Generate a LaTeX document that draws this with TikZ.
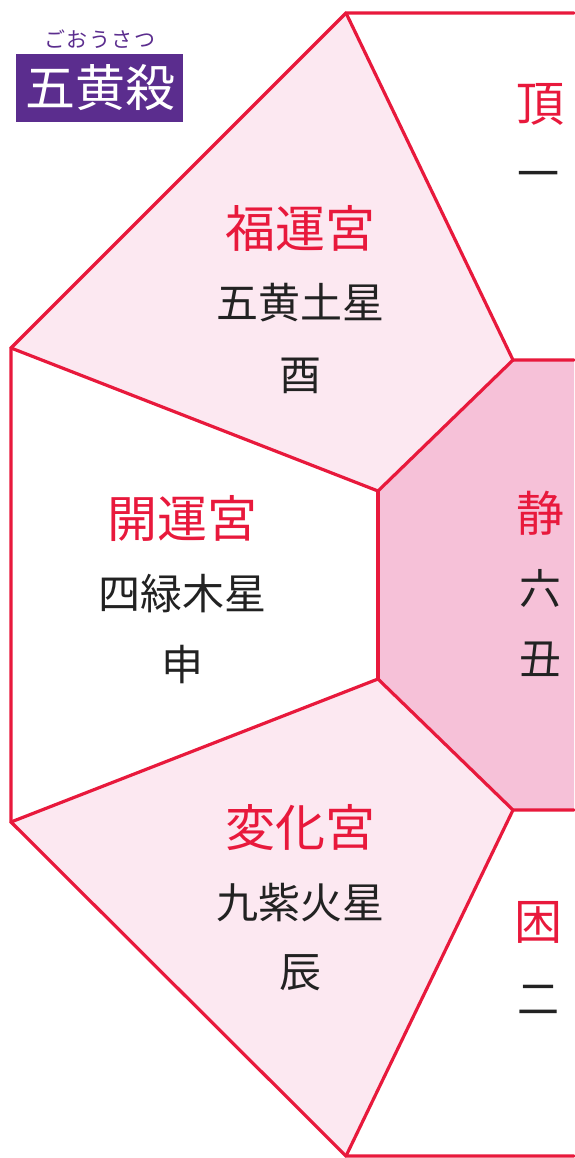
\documentclass[tikz,border=0pt]{standalone}
\usepackage{fontspec}
\setmainfont{Noto Sans CJK JP}
\definecolor{edge}{HTML}{E8193C}
\definecolor{lightpink}{HTML}{FCE8F1}
\definecolor{midpink}{HTML}{F6C1D8}
\definecolor{badge}{HTML}{5B2D8E}
\definecolor{ink}{HTML}{222222}
\begin{document}
\begin{tikzpicture}[x=1pt,y=-1pt,
  edgeline/.style={draw=edge,line width=3.2pt,line join=miter,line cap=round},
  palace/.style={text=edge,font=\fontsize{50}{50}\selectfont,inner sep=0pt},
  starname/.style={text=ink,font=\fontsize{42}{42}\selectfont,inner sep=0pt},
  sidelabel/.style={text=edge,font=\fontsize{48}{48}\selectfont,inner sep=0pt},
  sidenum/.style={text=ink,font=\fontsize{42}{42}\selectfont,inner sep=0pt}]
\useasboundingbox (0,0) rectangle (574,1158);
% vertices
\coordinate (T) at (346,13);
\coordinate (TR) at (574,13);
\coordinate (B) at (346,1156);
\coordinate (BR) at (574,1156);
\coordinate (LU) at (11,348);
\coordinate (LL) at (11,822);
\coordinate (HU) at (378,491);
\coordinate (HL) at (378,679);
\coordinate (RU) at (513,360);
\coordinate (RL) at (513,810);
\coordinate (RUe) at (574,360);
\coordinate (RLe) at (574,810);
% fills
\fill[lightpink] (T) -- (RU) -- (HU) -- (LU) -- cycle;
\fill[lightpink] (B) -- (RL) -- (HL) -- (LL) -- cycle;
\fill[midpink] (RU) -- (RUe) -- (RLe) -- (RL) -- (HL) -- (HU) -- cycle;
% edges
\draw[edgeline] (TR) -- (T) -- (LU) -- (LL) -- (B) -- (BR);
\draw[edgeline] (T) -- (RU) -- (RUe);
\draw[edgeline] (LU) -- (HU) -- (RU);
\draw[edgeline] (HU) -- (HL);
\draw[edgeline] (LL) -- (HL) -- (RL) -- (RLe);
\draw[edgeline] (B) -- (RL);
% badge
\node[fill=badge,minimum width=167pt,minimum height=68pt,inner sep=0pt,anchor=north west] (badgebox) at (16,54) {};
\node[text=white,font=\fontsize{50}{50}\selectfont,inner sep=0pt] (badgetext) at (100,88) {五黄殺};
\node[text=badge,font=\fontsize{21}{21}\selectfont,inner sep=0pt] (ruby) at (100,39) {ご\hspace{1.5pt}お\hspace{1.5pt}う\hspace{1.5pt}さ\hspace{1.5pt}つ};
% upper palace
\node[palace] (p1) at (300,228) {福運宮};
\node[starname] (s1) at (300,303) {五黄土星};
\node[starname] (z1) at (300,376) {酉};
% middle palace
\node[palace] (p2) at (182,518) {開運宮};
\node[starname] (s2) at (182,594) {四緑木星};
\node[starname] (z2) at (182,665) {申};
% lower palace
\node[palace] (p3) at (300,828) {変化宮};
\node[starname] (s3) at (300,903) {九紫火星};
\node[starname] (z3) at (300,973) {辰};
% right column
\node[sidelabel] (r1) at (540,104) {頂};
\node[sidenum] (n1) at (538,180) {一};
\node[sidelabel] (r2) at (540,513) {静};
\node[sidenum] (n2) at (540,588) {六};
\node[sidenum] (n3) at (540,659) {丑};
\node[sidelabel] (r3) at (538,922) {困};
\node[sidenum] (n4) at (538,1000) {二};
\end{tikzpicture}
\end{document}
